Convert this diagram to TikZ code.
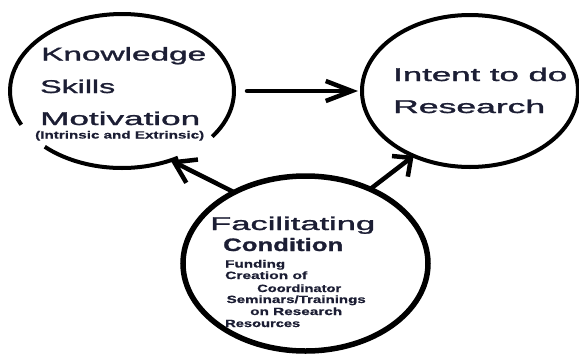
\documentclass[tikz,border=0pt]{standalone}
\usepackage{fontspec}
\setmainfont{Liberation Sans}
\newfontfamily\heavyreg[FakeBold=1.2]{Liberation Sans}
\newfontfamily\heavybold[FakeBold=1.0]{Liberation Sans Bold}
\newfontfamily\smallbold[FakeBold=0.6]{Liberation Sans Bold}
\usetikzlibrary{shapes.geometric,arrows.meta}
\definecolor{ink}{RGB}{28,30,52}
% stretch a line of text horizontally to a given width, keeping its height
\newcommand{\widen}[2]{\resizebox{#1}{\height}{#2}}

\begin{document}
\begin{tikzpicture}[x=1pt,y=1pt,
  oval/.style={ellipse, inner sep=0pt, outer sep=0pt, line width=4pt},
  bigtxt/.style={anchor=base west, inner sep=0pt, text=ink, font=\heavyreg\fontsize{18.5}{20}\selectfont},
  boldtxt/.style={anchor=base west, inner sep=0pt, text=ink, font=\heavybold\fontsize{18}{20}\selectfont},
  smalltxt/.style={anchor=base west, inner sep=0pt, text=ink, font=\smallbold\fontsize{10.5}{12}\selectfont},
  link/.style={line width=4.5pt, line cap=round, line join=round}
]
\useasboundingbox (0,0) rectangle (579,-354);

% the three ovals
\node[oval, minimum width=224pt, minimum height=154pt] (know) at (122,-91) {};
\draw[line width=4pt] (know.center) ++(-36.3:112pt and 77pt)
  arc[start angle=-36.3, end angle=206, x radius=112pt, y radius=77pt];
\draw[line width=4pt] (know.center) ++(226.4:112pt and 77pt)
  arc[start angle=226.4, end angle=300, x radius=112pt, y radius=77pt];

\node[oval, draw, minimum width=216pt, minimum height=152pt] (intent) at (470,-91) {};
\node[oval, draw, line width=5.5pt, minimum width=245pt, minimum height=175pt] (fac) at (305.5,-263.5) {};

% connectors
\draw[link, -{Straight Barb[length=26pt, width=20pt]}]
  ([xshift=13pt]know.east) -- ([xshift=-4pt]intent.west);
\draw[link, -{Straight Barb[length=20pt, width=26pt]}] (fac.135) -- (know.-55);
\draw[link, -{Straight Barb[length=14pt, width=26pt]}] (fac.49) -- (intent.229);

% left oval text
\node[bigtxt] (k1) at (41,-60.5) {\widen{165pt}{Knowledge}};
\node[bigtxt] (k2) at (40,-93) {\widen{75pt}{Skills}};
\node[bigtxt] (k3) at (40,-125) {\widen{160pt}{Motivation}};
\node[smalltxt] (k4) at (35,-138.5) {\widen{169pt}{(Intrinsic and Extrinsic)}};

% right oval text
\node[bigtxt] (i1) at (393,-81) {\widen{174pt}{Intent to do}};
\node[bigtxt] (i2) at (393,-113) {\widen{152pt}{Research}};

% bottom oval text
\node[bigtxt] (f1) at (210,-230) {\widen{165pt}{Facilitating}};
\node[boldtxt] (f2) at (223,-251) {\widen{120pt}{Condition}};
\node[smalltxt] (f3) at (225,-267.5) {\widen{60pt}{Funding}};
\node[smalltxt] (f4) at (225,-279) {\widen{82pt}{Creation of}};
\node[smalltxt] (f5) at (257,-292) {\widen{84pt}{Coordinator}};
\node[smalltxt] (f6) at (226.5,-303) {\widen{139pt}{Seminars/Trainings}};
\node[smalltxt] (f7) at (250,-315) {\widen{92pt}{on Research}};
\node[smalltxt] (f8) at (225,-327) {\widen{75pt}{Resources}};
\end{tikzpicture}
\end{document}
